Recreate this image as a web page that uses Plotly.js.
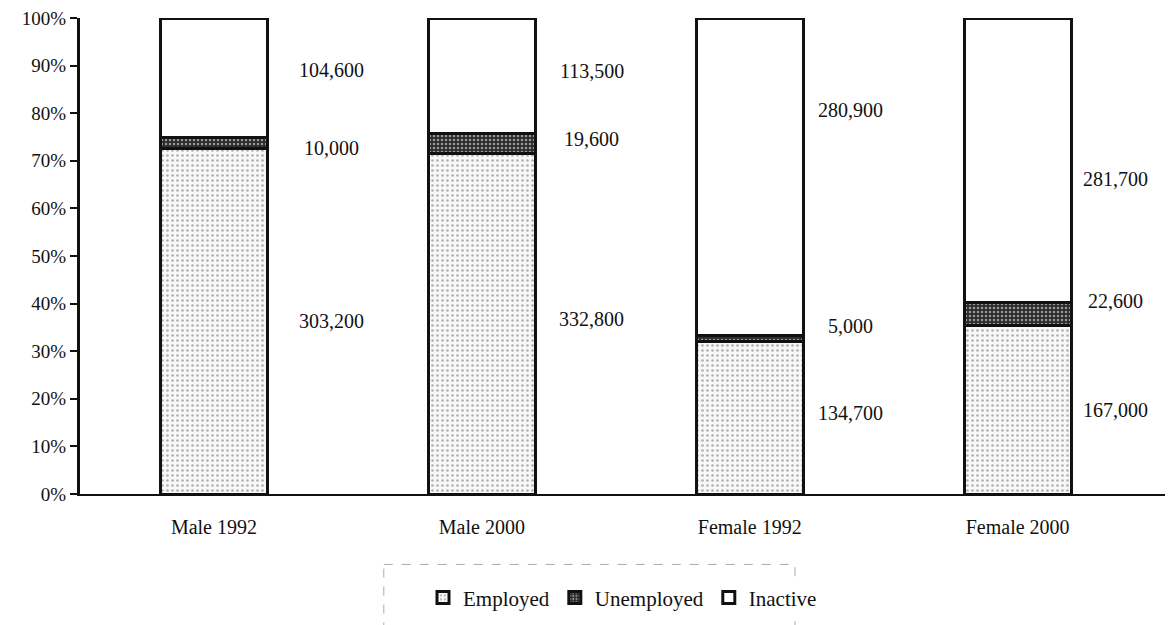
<!DOCTYPE html>
<html><head><meta charset="utf-8">
<script src="https://cdn.plot.ly/plotly-3.0.1.min.js"></script>
<style>html,body{margin:0;padding:0;background:#fff}#chart{width:1172px;height:625px}</style>
</head><body><div id="chart"></div>
<script>
const categories = ['Male 1992', 'Male 2000', 'Female 1992', 'Female 2000'];
const employed = [303200, 332800, 134700, 167000];
const unemployed = [10000, 19600, 5000, 22600];
const inactive = [104600, 113500, 280900, 281700];
const labelEmployed = ['303,200', '332,800', '134,700', '167,000'];
const labelUnemployed = ['10,000', '19,600', '5,000', '22,600'];
const labelInactive = ['104,600', '113,500', '280,900', '281,700'];

const FONT = 'Liberation Serif, Times New Roman, serif';
const lineStyle = {color: '#111', width: 3};

const traces = [
  {type: 'bar', name: 'Employed', x: categories, y: employed, width: 0.4,
   marker: {color: '#f4f4f4', line: lineStyle,
            pattern: {shape: '.', fgcolor: '#b0b0b0', bgcolor: '#f8f8f8', size: 5, solidity: 0.22}},
   hoverinfo: 'skip'},
  {type: 'bar', name: 'Unemployed', x: categories, y: unemployed, width: 0.4,
   marker: {color: '#333', line: lineStyle,
            pattern: {shape: '.', fgcolor: '#9a9a9a', bgcolor: '#2b2b2b', size: 4, solidity: 0.3}},
   hoverinfo: 'skip'},
  {type: 'bar', name: 'Inactive', x: categories, y: inactive, width: 0.4,
   marker: {color: '#ffffff', line: lineStyle}, hoverinfo: 'skip'}
];

// label placement (layout only): horizontal pixel shift per category, vertical nudge per label (percent units)
const xShift = [118, 110, 101, 98];
const nudgeInactive = [1.5, 1, 14, -4];
const nudgeUnemployed = [-1, 1, 2.7, 2.8];
const nudgeEmployed = [0, 1, 1, 0];

const annotations = [];
categories.forEach((c, i) => {
  const tot = employed[i] + unemployed[i] + inactive[i];
  const pe = employed[i] / tot * 100, pu = unemployed[i] / tot * 100, pi = inactive[i] / tot * 100;
  const mk = (text, y) => ({x: c, y: y, text: text, showarrow: false, xshift: xShift[i],
    font: {family: FONT, size: 20, color: '#111'}});
  annotations.push(mk(labelEmployed[i], pe / 2 + nudgeEmployed[i]));
  annotations.push(mk(labelUnemployed[i], pe + pu / 2 + nudgeUnemployed[i]));
  annotations.push(mk(labelInactive[i], pe + pu + pi / 2 + nudgeInactive[i]));
});

const layout = {
  width: 1172, height: 625,
  margin: {l: 80, r: 7, t: 18, b: 128},
  paper_bgcolor: '#fff', plot_bgcolor: '#fff',
  barmode: 'stack', barnorm: 'percent',
  font: {family: FONT, color: '#111'},
  showlegend: true,
  legend: {orientation: 'h', x: 0.5, xanchor: 'center', y: -0.218, yanchor: 'middle',
           font: {family: FONT, size: 21, color: '#111'}, traceorder: 'normal', itemwidth: 30},
  xaxis: {range: [-0.5, 3.55], showgrid: false, zeroline: false, showline: true,
          linecolor: '#111', linewidth: 2, ticks: '', ticklabelstandoff: 14,
          tickfont: {family: FONT, size: 20, color: '#111'}, fixedrange: true},
  yaxis: {range: [0, 100], dtick: 10, ticksuffix: '%', showgrid: false, zeroline: false,
          showline: true, linecolor: '#111', linewidth: 3, ticks: 'outside', ticklen: 7,
          tickwidth: 2, tickcolor: '#111', tickfont: {family: FONT, size: 19, color: '#111'},
          fixedrange: true},
  annotations: annotations,
  shapes: [
    {type: 'rect', xref: 'paper', yref: 'paper', x0: 0.28, x1: 0.659, y0: -0.148, y1: -0.3,
     line: {color: '#aaa', width: 1, dash: 'dash'}, fillcolor: 'rgba(0,0,0,0)'}
  ]
};

Plotly.newPlot('chart', traces, layout, {displayModeBar: false, staticPlot: true});
</script></body></html>
